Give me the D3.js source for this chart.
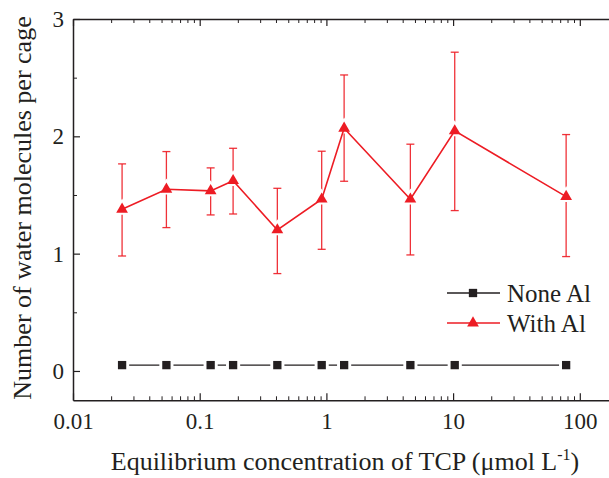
<!DOCTYPE html>
<html><head><meta charset="utf-8">
<script src="https://cdn.jsdelivr.net/npm/d3@7"></script>
<style>body{margin:0;background:#fff}svg{display:block}</style>
</head><body>
<script>
const concentrations = [0.0244, 0.0546, 0.122, 0.1835, 0.41, 0.918, 1.38, 4.6, 10.3, 78];
const noneAl = [0.05, 0.05, 0.05, 0.05, 0.05, 0.05, 0.05, 0.05, 0.05, 0.05];
const withAl = [1.378, 1.549, 1.535, 1.622, 1.202, 1.464, 2.069, 1.464, 2.046, 1.486];
const withAlHigh = [1.765, 1.870, 1.731, 1.898, 1.557, 1.873, 2.523, 1.933, 2.717, 2.015];
const withAlLow = [0.980, 1.222, 1.330, 1.338, 0.830, 1.037, 1.617, 0.989, 1.367, 0.975];
const xTickValues = [0.01, 0.1, 1, 10, 100];
const xTickLabels = ["0.01", "0.1", "1", "10", "100"];
const yTickValues = [0, 1, 2, 3];
const yMinorValues = [0.5, 1.5, 2.5];
const seriesNames = ["None Al", "With Al"];

const W = 609, H = 478;
const red = "#ed1c24", black = "#231f20";
const FONT = "Liberation Serif, Tinos, Noto Serif, DejaVu Serif, Times New Roman, Times, serif";
const svg = d3.select("body").append("svg").attr("width", W).attr("height", H).style("font-family", FONT);

const x = d3.scaleLog().domain([0.01, 180]).range([73, 73 + 126.7 * Math.log10(18000)]);
const y = d3.scaleLinear().domain([-0.25, 3]).range([400.3, 19]);
const [x0, x1] = x.range();
const [yb, yt] = y.range();

const xMinor = [];
for (let d = 0.01; d < 200; d *= 10) for (let k = 2; k <= 9; k++) { const v = d * k; if (v < 180) xMinor.push(v); }

function xAxis(g, orient) {
  const ax = (orient === "bottom" ? d3.axisBottom(x) : d3.axisTop(x));
  g.call(ax.tickValues(xTickValues).tickFormat((d, i) => orient === "bottom" ? xTickLabels[i] : "").tickSizeInner(-7).tickSizeOuter(0).tickPadding(12));
  g.attr("font-family", null);
  g.select(".domain").attr("stroke", black).attr("stroke-width", 1.5);
  g.selectAll(".tick line").attr("stroke", black).attr("stroke-width", 1.2);
  const ax2 = (orient === "bottom" ? d3.axisBottom(x) : d3.axisTop(x));
  const gm = g.append("g").call(ax2.tickValues(xMinor).tickFormat("").tickSizeInner(-4).tickSizeOuter(0));
  gm.select(".domain").remove();
  gm.selectAll(".tick line").attr("stroke", black).attr("stroke-width", 1);
}
const gxb = svg.append("g").attr("transform", `translate(0,${yb})`);
xAxis(gxb, "bottom");
gxb.selectAll(".tick text").attr("font-size", 23).attr("fill", black);
const gxt = svg.append("g").attr("transform", `translate(0,${yt})`);
xAxis(gxt, "top");

const gy = svg.append("g").attr("transform", `translate(${x0},0)`);
gy.call(d3.axisLeft(y).tickValues(yTickValues).tickFormat(d3.format("d")).tickSizeInner(-7).tickSizeOuter(0).tickPadding(9));
gy.attr("font-family", null);
gy.select(".domain").attr("stroke", black).attr("stroke-width", 1.5);
gy.selectAll(".tick line").attr("stroke", black).attr("stroke-width", 1.2);
gy.selectAll(".tick text").attr("font-size", 23).attr("fill", black);
const gym = svg.append("g").attr("transform", `translate(${x0},0)`);
gym.call(d3.axisLeft(y).tickValues(yMinorValues).tickFormat("").tickSizeInner(-4).tickSizeOuter(0));
gym.select(".domain").remove();
gym.selectAll(".tick line").attr("stroke", black).attr("stroke-width", 1);

const noneData = concentrations.map((c, i) => ({ c, v: noneAl[i] }));
const withData = concentrations.map((c, i) => ({ c, v: withAl[i], hi: withAlHigh[i], lo: withAlLow[i] }));
const line = d3.line().x(d => x(d.c)).y(d => y(d.v));
const sq = d3.symbol().type(d3.symbolSquare).size(69);
const tri = d3.symbol().type(d3.symbolTriangle).size(60);

svg.append("path").datum(noneData).attr("d", line).attr("fill", "none").attr("stroke", black).attr("stroke-width", 1.3);
svg.selectAll(".sqhalo").data(noneData).join("path").attr("class", "sqhalo").attr("d", d3.symbol().type(d3.symbolSquare).size(200)()).attr("transform", d => `translate(${x(d.c)},${y(d.v)})`).attr("fill", "#fff");
svg.selectAll(".sq").data(noneData).join("path").attr("class", "sq").attr("d", sq()).attr("transform", d => `translate(${x(d.c)},${y(d.v)})`).attr("fill", black);

const eb = svg.append("g").attr("stroke", red).attr("stroke-width", 1.3).attr("stroke-opacity", 0.9);
withData.forEach(d => {
  const cx = x(d.c);
  eb.append("line").attr("x1", cx).attr("x2", cx).attr("y1", y(d.hi)).attr("y2", y(d.lo));
  eb.append("line").attr("x1", cx - 4).attr("x2", cx + 4).attr("y1", y(d.hi)).attr("y2", y(d.hi));
  eb.append("line").attr("x1", cx - 4).attr("x2", cx + 4).attr("y1", y(d.lo)).attr("y2", y(d.lo));
});
svg.selectAll(".trihalo").data(withData).join("path").attr("class", "trihalo").attr("d", d3.symbol().type(d3.symbolTriangle).size(150)()).attr("transform", d => `translate(${x(d.c)},${y(d.v)})`).attr("fill", "#fff");
svg.append("path").datum(withData).attr("d", line).attr("fill", "none").attr("stroke", red).attr("stroke-width", 1.6);
svg.selectAll(".tri").data(withData).join("path").attr("class", "tri").attr("d", tri()).attr("transform", d => `translate(${x(d.c)},${y(d.v)})`).attr("fill", red);

const lg = svg.append("g");
const legendRows = [{ name: seriesNames[0], color: black, sym: sq }, { name: seriesNames[1], color: red, sym: tri }];
legendRows.forEach((r, i) => {
  const ly = 293 + i * 30;
  lg.append("line").attr("x1", 447).attr("x2", 500).attr("y1", ly).attr("y2", ly).attr("stroke", r.color).attr("stroke-width", 1.3);
  lg.append("path").attr("d", r.sym()).attr("transform", `translate(473,${ly})`).attr("fill", r.color);
  lg.append("text").attr("x", 507).attr("y", ly + 9).attr("font-size", 25).attr("fill", black).text(r.name);
});

const xt = svg.append("text").attr("x", 345).attr("y", 470).attr("text-anchor", "middle").attr("font-size", 26).attr("fill", black);
xt.append("tspan").text("Equilibrium concentration of TCP (\u03bcmol L");
xt.append("tspan").attr("font-size", 16).attr("dy", -10).text("-1");
xt.append("tspan").attr("dy", 10).text(")");
svg.append("text").attr("transform", "translate(31,208) rotate(-90)").attr("text-anchor", "middle").attr("font-size", 26).attr("fill", black).text("Number of water molecules per cage");
</script>
</body></html>
